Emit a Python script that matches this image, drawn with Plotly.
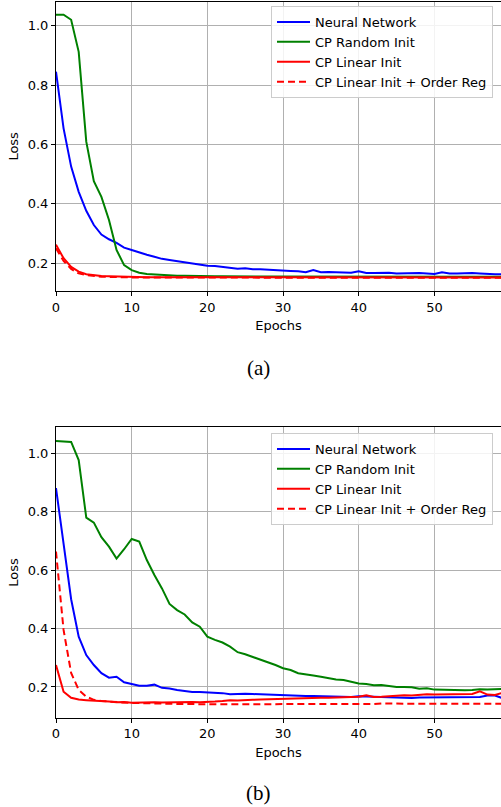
import plotly.graph_objects as go

# Training loss per epoch, panel (a)
nn_a = [0.845, 0.654, 0.525, 0.44, 0.376, 0.328, 0.296, 0.28, 0.268, 0.252,
        0.244, 0.235, 0.228, 0.221, 0.214, 0.21, 0.206, 0.202, 0.197, 0.193,
        0.191, 0.19, 0.187, 0.184, 0.181, 0.182, 0.179, 0.179, 0.177, 0.175,
        0.174, 0.173, 0.172, 0.169, 0.176, 0.169, 0.17, 0.169, 0.168, 0.167,
        0.172, 0.166, 0.166, 0.167, 0.167, 0.165, 0.166, 0.166, 0.166, 0.165,
        0.163, 0.169, 0.165, 0.165, 0.166, 0.166, 0.165, 0.163, 0.162, 0.162]
cp_rand_a = [1.037, 1.037, 1.02, 0.912, 0.609, 0.476, 0.423, 0.345, 0.244, 0.193,
             0.176, 0.167, 0.163, 0.161, 0.159, 0.158, 0.157, 0.157, 0.156, 0.156,
             0.155, 0.155, 0.155, 0.155, 0.155, 0.154, 0.154, 0.154, 0.154, 0.154,
             0.154, 0.154, 0.154, 0.154, 0.154, 0.154, 0.154, 0.154, 0.154, 0.154,
             0.154, 0.154, 0.154, 0.154, 0.154, 0.154, 0.154, 0.154, 0.154, 0.154,
             0.154, 0.154, 0.154, 0.154, 0.154, 0.154, 0.154, 0.154, 0.154, 0.154]
cp_lin_a = [0.262, 0.216, 0.187, 0.171, 0.162, 0.158, 0.156, 0.155, 0.154, 0.153,
            0.153, 0.152, 0.152, 0.152, 0.152, 0.151, 0.151, 0.151, 0.151, 0.151,
            0.151, 0.151, 0.151, 0.151, 0.151, 0.151, 0.151, 0.151, 0.151, 0.151,
            0.151, 0.151, 0.151, 0.151, 0.151, 0.151, 0.151, 0.151, 0.151, 0.151,
            0.151, 0.151, 0.151, 0.151, 0.151, 0.151, 0.151, 0.151, 0.151, 0.151,
            0.151, 0.151, 0.151, 0.151, 0.151, 0.151, 0.151, 0.151, 0.151, 0.151]
cp_lin_reg_a = [0.25, 0.207, 0.18, 0.165, 0.159, 0.156, 0.154, 0.153, 0.152, 0.152,
                0.151, 0.151, 0.151, 0.151, 0.15, 0.15, 0.15, 0.15, 0.15, 0.15,
                0.15, 0.15, 0.15, 0.15, 0.15, 0.15, 0.15, 0.15, 0.15, 0.15,
                0.15, 0.15, 0.15, 0.15, 0.15, 0.15, 0.15, 0.15, 0.15, 0.15,
                0.15, 0.15, 0.15, 0.15, 0.15, 0.15, 0.15, 0.15, 0.15, 0.15,
                0.15, 0.15, 0.15, 0.15, 0.15, 0.15, 0.15, 0.15, 0.15, 0.15]

# Training loss per epoch, panel (b)
nn_b = [0.88, 0.68, 0.5, 0.372, 0.309, 0.275, 0.247, 0.232, 0.235, 0.216,
        0.211, 0.204, 0.204, 0.208, 0.197, 0.195, 0.19, 0.186, 0.183, 0.183,
        0.182, 0.18, 0.179, 0.175, 0.177, 0.177, 0.176, 0.175, 0.172, 0.171,
        0.17, 0.17, 0.169, 0.169, 0.169, 0.168, 0.168, 0.167, 0.166, 0.166,
        0.168, 0.167, 0.166, 0.166, 0.165, 0.164, 0.162, 0.162, 0.164, 0.164,
        0.164, 0.165, 0.165, 0.164, 0.165, 0.165, 0.166, 0.171, 0.171, 0.162]
cp_rand_b = [1.041, 1.04, 1.038, 0.976, 0.779, 0.762, 0.712, 0.68, 0.639, 0.671,
             0.706, 0.697, 0.634, 0.583, 0.537, 0.484, 0.463, 0.448, 0.421, 0.406,
             0.372, 0.361, 0.352, 0.338, 0.319, 0.312, 0.303, 0.292, 0.284, 0.275,
             0.264, 0.258, 0.247, 0.244, 0.239, 0.235, 0.23, 0.226, 0.224, 0.218,
             0.212, 0.21, 0.206, 0.207, 0.203, 0.2, 0.2, 0.199, 0.194, 0.196,
             0.191, 0.19, 0.19, 0.19, 0.189, 0.19, 0.192, 0.191, 0.192, 0.193]
cp_lin_b = [0.275, 0.184, 0.163, 0.157, 0.155, 0.154, 0.151, 0.15, 0.148, 0.149,
            0.146, 0.147, 0.147, 0.148, 0.147, 0.148, 0.147, 0.148, 0.149, 0.148,
            0.148, 0.15, 0.152, 0.155, 0.154, 0.154, 0.156, 0.157, 0.158, 0.158,
            0.159, 0.16, 0.16, 0.161, 0.162, 0.163, 0.163, 0.164, 0.164, 0.166,
            0.167, 0.172, 0.166, 0.167, 0.169, 0.171, 0.172, 0.171, 0.173, 0.175,
            0.174, 0.174, 0.175, 0.176, 0.175, 0.176, 0.185, 0.174, 0.173, 0.18]
cp_lin_reg_b = [0.663, 0.395, 0.248, 0.19, 0.167, 0.156, 0.152, 0.15, 0.148, 0.147,
                0.145, 0.145, 0.144, 0.144, 0.143, 0.143, 0.142, 0.142, 0.141, 0.141,
                0.141, 0.141, 0.141, 0.141, 0.141, 0.141, 0.141, 0.142, 0.142, 0.142,
                0.143, 0.143, 0.142, 0.142, 0.142, 0.142, 0.142, 0.142, 0.142, 0.142,
                0.142, 0.142, 0.142, 0.144, 0.143, 0.143, 0.143, 0.143, 0.143, 0.143,
                0.143, 0.143, 0.143, 0.143, 0.143, 0.143, 0.143, 0.143, 0.143, 0.143]

series_names = ["Neural Network", "CP Random Init", "CP Linear Init",
                "CP Linear Init + Order Reg"]
series_colors = ["#0000ff", "#008000", "#ff0000", "#ff0000"]
series_dash = ["solid", "solid", "solid", "7px,4px"]
captions = ["(a)", "(b)"]
x_ticks = [0, 10, 20, 30, 40, 50]
y_ticks = [0.2, 0.4, 0.6, 0.8, 1.0]

W, H = 501, 807
FONT = "DejaVu Sans"

panels = [
    dict(data=[nn_a, cp_rand_a, cp_lin_a, cp_lin_reg_a],
         top=1.7, bottom=291.0, yrange=[0.1056, 1.081], legend_top=6, caption_y=367.5),
    dict(data=[nn_b, cp_rand_b, cp_lin_b, cp_lin_reg_b],
         top=427.3, bottom=717.7, yrange=[0.095, 1.0879], legend_top=433, caption_y=792.5),
]

fig = go.Figure()
x_left = 56 / W

for p_idx, panel in enumerate(panels):
    n = p_idx + 1
    xa = "x" if n == 1 else f"x{n}"
    ya = "y" if n == 1 else f"y{n}"
    leg = "legend" if n == 1 else f"legend{n}"
    for name, vals, col, dash in zip(series_names, panel["data"], series_colors, series_dash):
        fig.add_trace(go.Scatter(
            x=list(range(len(vals))), y=vals, mode="lines", name=name,
            line=dict(color=col, width=2, dash=dash),
            xaxis=xa, yaxis=ya, legend=leg, showlegend=True,
        ))

    dom_y = [1 - panel["bottom"] / H, 1 - panel["top"] / H]
    axis_common = dict(
        showline=True, linecolor="black", linewidth=1,
        ticks="outside", ticklen=4, tickwidth=1, tickcolor="black",
        showgrid=True, gridcolor="#b0b0b0", gridwidth=1,
        zeroline=False, automargin=False,
        tickfont=dict(family=FONT, size=13, color="black"),
    )
    fig.layout[f"xaxis{'' if n == 1 else n}"] = dict(
        axis_common, domain=[x_left, 1.0], range=[0, 58.8],
        tickvals=x_ticks, mirror=True, anchor=ya,
        title=dict(text="Epochs", font=dict(family=FONT, size=13, color="black"), standoff=7),
    )
    fig.layout[f"yaxis{'' if n == 1 else n}"] = dict(
        axis_common, domain=dom_y, range=panel["yrange"],
        tickvals=y_ticks, tickformat=".1f", anchor=xa,
        title=dict(text="Loss", font=dict(family=FONT, size=13, color="black"), standoff=6),
    )
    fig.layout[leg] = dict(
        x=271 / W, y=1 - panel["legend_top"] / H, xanchor="left", yanchor="top",
        xref="paper", yref="paper",
        bgcolor="rgba(255,255,255,0.85)", bordercolor="#cccccc", borderwidth=1,
        font=dict(family=FONT, size=13, color="black"),
        tracegroupgap=0, itemwidth=33,
    )
    fig.add_annotation(
        text=captions[p_idx], x=258.5 / W, y=1 - panel["caption_y"] / H,
        xref="paper", yref="paper", showarrow=False,
        xanchor="center", yanchor="middle",
        font=dict(family="Liberation Serif", size=21, color="black"),
    )

fig.update_layout(
    width=W, height=H,
    margin=dict(l=0, r=0, t=0, b=0, autoexpand=False),
    paper_bgcolor="white", plot_bgcolor="white",
)

fig.write_html("out.html")
